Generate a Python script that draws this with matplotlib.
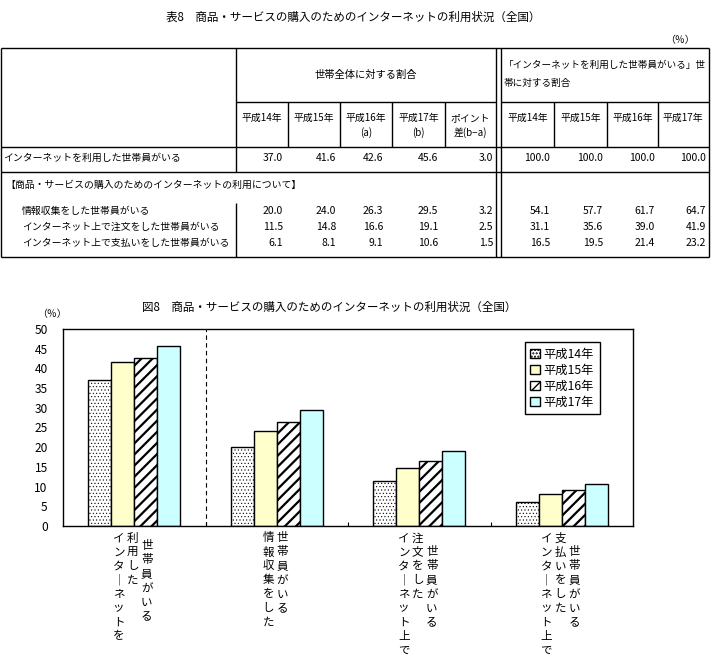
import numpy as np
import matplotlib
matplotlib.use("Agg")
import matplotlib.pyplot as plt

plt.rcParams['font.family'] = ['Noto Sans CJK JP', 'DejaVu Sans']

W, H = 714, 657

# ---- data ----
years = ["平成14年", "平成15年", "平成16年", "平成17年"]
row_labels = [
    "インターネットを利用した世帯員がいる",
    "情報収集をした世帯員がいる",
    "インターネット上で注文をした世帯員がいる",
    "インターネット上で支払いをした世帯員がいる",
]
share_all = [  # 世帯全体に対する割合 H14..H17
    [37.0, 41.6, 42.6, 45.6],
    [20.0, 24.0, 26.3, 29.5],
    [11.5, 14.8, 16.6, 19.1],
    [6.1, 8.1, 9.1, 10.6],
]
point_diff = [3.0, 3.2, 2.5, 1.5]
share_users = [
    [100.0, 100.0, 100.0, 100.0],
    [54.1, 57.7, 61.7, 64.7],
    [31.1, 35.6, 39.0, 41.9],
    [16.5, 19.5, 21.4, 23.2],
]
cat_labels = [
    ["インターネットを", "利用した", "世帯員がいる"],
    ["情報収集をした", "世帯員がいる"],
    ["インターネット上で", "注文をした", "世帯員がいる"],
    ["インターネット上で", "支払いをした", "世帯員がいる"],
]
yticks = list(range(0, 51, 5))

# ---- style ----
colors = ["white", "#FFFFCC", "white", "#CCFFFF"]
hatches = [".....", "", "///", ""]
hatch_lw = [0.4, 1.0, 1.6, 1.0]
label_start = [[0, 0, 8], [0, 0], [0, 0, 14], [0, 0, 14]]

fig = plt.figure(figsize=(W / 100, H / 100), dpi=100)

# background axes in pixel coords for the table and titles
bg = fig.add_axes([0, 0, 1, 1])
bg.set_xlim(0, W)
bg.set_ylim(H, 0)
bg.axis("off")

FS = 8.3
FT = 7.1   # table body text
lw = 1.0


def hline(y, x0, x1):
    bg.plot([x0, x1], [y, y], color="black", lw=lw, solid_capstyle="butt")


def vline(x, y0, y1):
    bg.plot([x, x], [y0, y1], color="black", lw=lw, solid_capstyle="butt")


bg.text(353, 17, "表8　商品・サービスの購入のためのインターネットの利用状況（全国）",
        ha="center", va="center", fontsize=FS)
bg.text(680, 40, "（％）", ha="center", va="center", fontsize=FT)

# table frame
L, R, T, B = 0.5, 708.5, 48, 257
hline(T, L, R)
hline(B, L, R)
vline(L, T, B)
vline(R, T, B)
hline(102, 236, 496)
hline(102, 501, R)
hline(147, L, R)
hline(172, L, R)
vline(236, T, 172)
vline(236, 203, B)
vline(496, T, B)
vline(501, T, B)
for x in [288, 340, 392, 445, 554, 607, 658]:
    vline(x, 102, 147)

bg.text(366, 75, "世帯全体に対する割合", ha="center", va="center", fontsize=FT + 0.3)
bg.text(504, 65, "「インターネットを利用した世帯員がいる」世", ha="left", va="center", fontsize=6.9)
bg.text(504, 83, "帯に対する割合", ha="left", va="center", fontsize=6.9)

col_edges = [236, 288, 340, 392, 445, 496, 501, 554, 607, 658, 708]
left_cols = list(zip(col_edges[:5], col_edges[1:6]))
right_cols = list(zip(col_edges[6:10], col_edges[7:11]))
head_left = [[years[0]], [years[1]], [years[2], "(a)"], [years[3], "(b)"], ["ポイント", "差(b−a)"]]
for (x0, x1), lines in zip(left_cols, head_left):
    for k, s in enumerate(lines):
        bg.text((x0 + x1) / 2, 118 + 15 * k, s, ha="center", va="center", fontsize=FT)
for (x0, x1), s in zip(right_cols, years):
    bg.text((x0 + x1) / 2, 118, s, ha="center", va="center", fontsize=FT)

val_right = [283, 336, 383, 438, 493, 550, 603, 655, 706]
row_y = [158, 211, 227, 243]
row_x = [3, 22, 22, 22]
for i, (lab, y) in enumerate(zip(row_labels, row_y)):
    bg.text(row_x[i], y, lab, ha="left", va="center", fontsize=FT)
    vals = share_all[i] + [point_diff[i]] + share_users[i]
    for xr, v in zip(val_right, vals):
        bg.text(xr, y, f"{v:.1f}", ha="right", va="center", fontsize=FT + 0.4)
bg.text(5, 185, "【商品・サービスの購入のためのインターネットの利用について】",
        ha="left", va="center", fontsize=FT)

# ---- chart ----
bg.text(329, 307, "図8　商品・サービスの購入のためのインターネットの利用状況（全国）",
        ha="center", va="center", fontsize=FS)
bg.text(52, 314, "（％）", ha="center", va="center", fontsize=FT)

ax_l, ax_t, ax_r, ax_b = 63, 329, 633, 526
ax = fig.add_axes([ax_l / W, (H - ax_b) / H, (ax_r - ax_l) / W, (ax_b - ax_t) / H])

series = np.array(share_all).T  # years x categories
x = np.arange(len(cat_labels))
bw = 0.161
for j, yr in enumerate(years):
    with plt.rc_context({"hatch.linewidth": hatch_lw[j]}):
        bars = ax.bar(x + (j - 1.5) * bw, series[j], bw, color=colors[j],
                      edgecolor="black", linewidth=1.0, hatch=hatches[j], label=yr)
        for b in bars:
            if hasattr(b, "set_hatch_linewidth"):
                b.set_hatch_linewidth(hatch_lw[j])

ax.set_xlim(-0.5, len(cat_labels) - 0.5)
ax.set_ylim(0, 50)
ax.set_yticks(yticks)
ax.tick_params(axis="y", length=0, pad=11, labelsize=8.6)
ax.set_xticks(np.arange(0.5, len(cat_labels) - 0.5, 1.0))
ax.set_xticklabels([])
ax.tick_params(axis="x", direction="in", length=3, width=0.8)
for s in ax.spines.values():
    s.set_linewidth(1.0)
ax.axvline(0.5, color="black", lw=0.8, ls=(0, (4, 3)))

# vertical category labels
step = 14
for i, cols in enumerate(cat_labels):
    n = len(cols)
    for j, txt in enumerate(cols):
        dx = (j - (n - 1) / 2) * step - 1.5
        for k, ch in enumerate(txt):
            ch = "｜" if ch == "ー" else ch
            dy = 12 + label_start[i][j] + k * step
            ax.annotate(ch, xy=(i, 0), xycoords=("data", "axes fraction"),
                        xytext=(dx, -dy), textcoords="offset pixels",
                        ha="center", va="center", fontsize=FS, annotation_clip=False)

leg = ax.legend(loc="upper left", bbox_to_anchor=(0.81, 0.934), fontsize=8.8,
                frameon=True, fancybox=False, framealpha=1, edgecolor="black",
                handlelength=0.8, handleheight=0.8, handletextpad=0.3,
                labelspacing=0.25, borderpad=0.45, borderaxespad=0)
leg.get_frame().set_linewidth(1.0)

fig.savefig("out.png", dpi=100)
